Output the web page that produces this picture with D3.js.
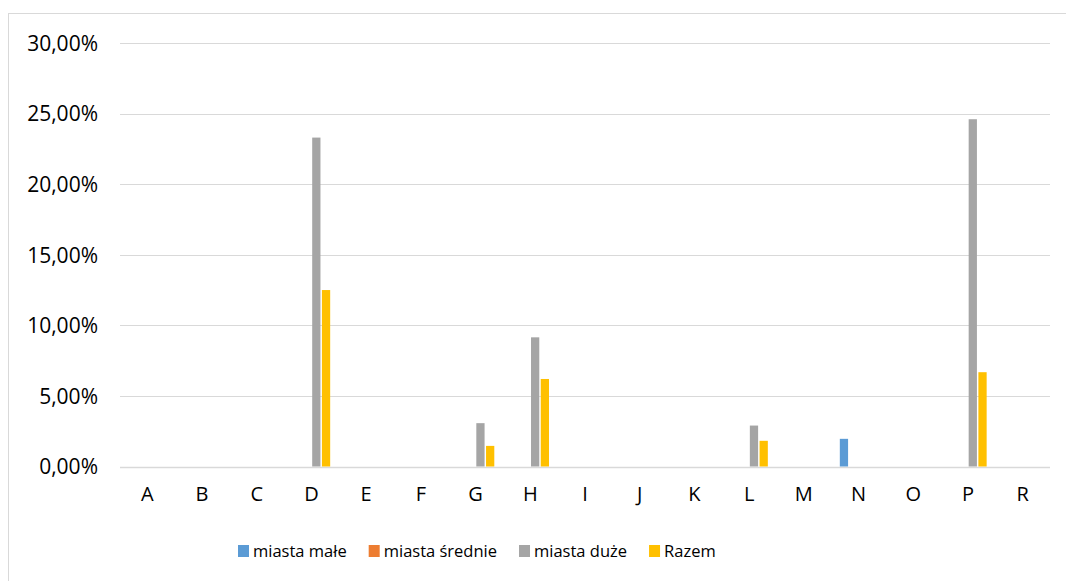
<!DOCTYPE html>
<html lang="pl">

<head>
    <meta charset="UTF-8">
    <title>Wykres</title>
    <script src="https://d3js.org/d3.v7.min.js"></script>
    <style>
        body { margin: 0; background: #fff; }
        text { font-family: "Open Sans", "Liberation Sans", sans-serif; fill: #000; }
    </style>
</head>

<body>
    <div id="chart"></div>

    <script>
        // dane
        const categories = ["A", "B", "C", "D", "E", "F", "G", "H", "I", "J", "K", "L", "M", "N", "O", "P", "R"];
        const seriesNames = ["miasta małe", "miasta średnie", "miasta duże", "Razem"];
        const colors = ["#5B9BD5", "#ED7D31", "#A5A5A5", "#FFC000"];
        const miastaMale    = [0, 0, 0, 0, 0, 0, 0, 0, 0, 0, 0, 0, 0, 1.96, 0, 0, 0];
        const miastaSrednie = [0, 0, 0, 0, 0, 0, 0, 0, 0, 0, 0, 0, 0, 0, 0, 0, 0];
        const miastaDuze    = [0, 0, 0, 23.3, 0, 0, 3.07, 9.15, 0, 0, 0, 2.9, 0, 0, 0, 24.6, 0];
        const razem         = [0, 0, 0, 12.5, 0, 0, 1.46, 6.2, 0, 0, 0, 1.82, 0, 0, 0, 6.68, 0];
        const yTicks = [0, 5, 10, 15, 20, 25, 30];

        const allSeries = [miastaMale, miastaSrednie, miastaDuze, razem];

        const W = 1066, H = 581;
        const plot = { left: 120, right: 1050, top: 43, bottom: 466.5 };

        const svg = d3.select("#chart")
            .append("svg")
            .attr("width", W)
            .attr("height", H);

        // ramka wykresu
        svg.append("rect")
            .attr("x", 8.5).attr("y", 13.5)
            .attr("width", W).attr("height", H)
            .attr("fill", "none")
            .attr("stroke", "#d9d9d9")
            .attr("stroke-width", 1);

        const x0 = d3.scaleBand()
            .domain(categories)
            .range([plot.left, plot.right]);

        const bw = x0.bandwidth();
        const x1 = d3.scaleBand()
            .domain(seriesNames)
            .range([bw * 0.158, bw * 0.842])
            .paddingInner(0.15);

        const y = d3.scaleLinear()
            .domain([0, 30])
            .range([plot.bottom, plot.top]);

        // linie siatki
        svg.append("g")
            .selectAll("line")
            .data(yTicks)
            .join("line")
            .attr("x1", plot.left)
            .attr("x2", plot.right)
            .attr("y1", d => Math.round(y(d)) + 0.5)
            .attr("y2", d => Math.round(y(d)) + 0.5)
            .attr("stroke", "#d9d9d9")
            .attr("stroke-width", d => d === 0 ? 1.5 : 1);

        // oś Y
        const fmt = d => d.toFixed(2).replace(".", ",") + "%";
        const yAxis = svg.append("g")
            .attr("transform", `translate(${plot.left - 22},0)`)
            .call(d3.axisLeft(y).tickValues(yTicks).tickFormat(fmt).tickSize(0).tickPadding(0));
        yAxis.select(".domain").remove();
        yAxis.selectAll("text")
            .style("font-size", "21px")
            .attr("dy", "0.35em");

        // oś X
        const xAxis = svg.append("g")
            .attr("transform", `translate(0,${plot.bottom})`)
            .call(d3.axisBottom(x0).tickSize(0).tickPadding(20));
        xAxis.select(".domain").remove();
        xAxis.selectAll("text")
            .style("font-size", "20px");

        // słupki
        seriesNames.forEach((name, si) => {
            svg.append("g")
                .selectAll("rect")
                .data(allSeries[si].map((v, i) => ({ cat: categories[i], v })).filter(d => d.v > 0))
                .join("rect")
                .attr("x", d => x0(d.cat) + x1(name))
                .attr("width", x1.bandwidth())
                .attr("y", d => y(d.v))
                .attr("height", d => y(0) - y(d.v))
                .attr("fill", colors[si]);
        });

        // legenda
        const legend = svg.append("g").attr("transform", "translate(238,551)");
        let lx = 0;
        seriesNames.forEach((name, i) => {
            const g = legend.append("g").attr("transform", `translate(${lx},0)`);
            g.append("rect")
                .attr("x", 0).attr("y", -6)
                .attr("width", 11).attr("height", 12)
                .attr("fill", colors[i]);
            const t = g.append("text")
                .attr("x", 15)
                .attr("dy", "0.35em")
                .style("font-size", "16.5px")
                .text(name);
            lx += 15 + t.node().getComputedTextLength() + 22;
        });
    </script>
</body>

</html>
